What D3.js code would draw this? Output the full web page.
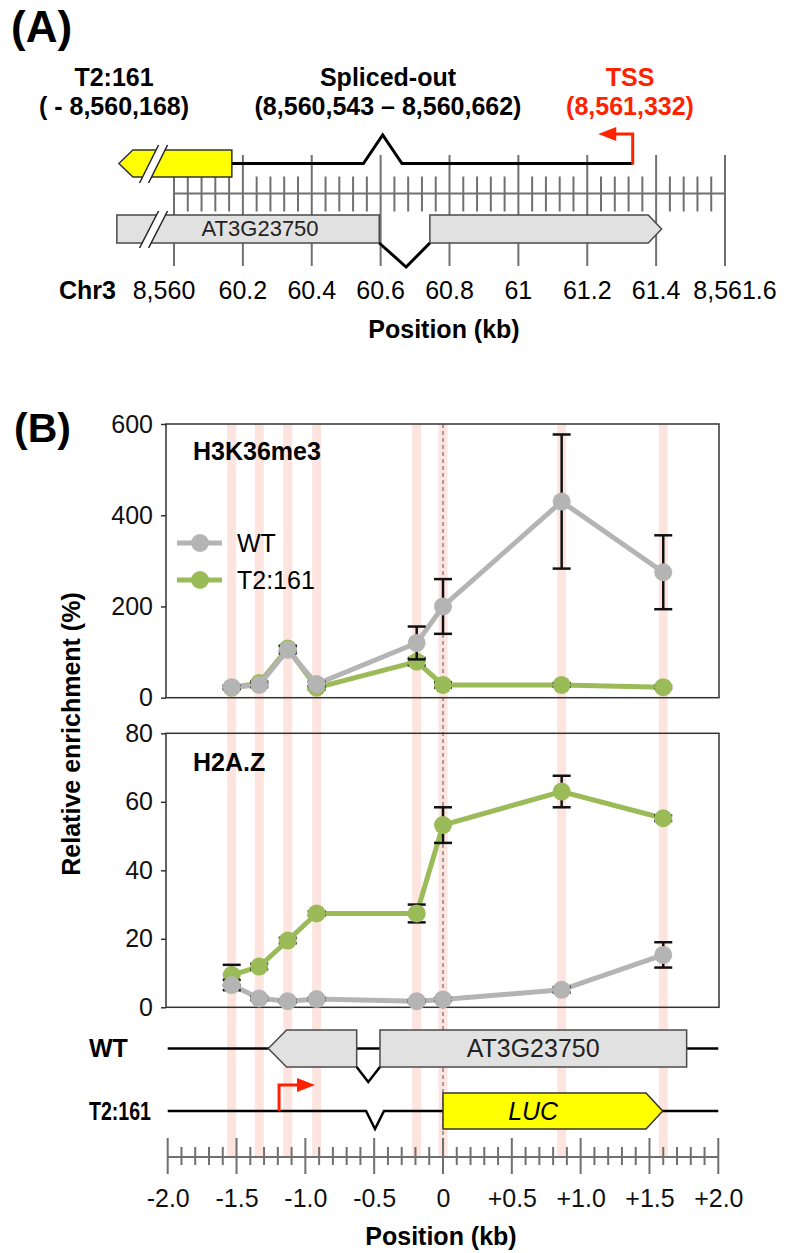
<!DOCTYPE html>
<html>
<head>
<meta charset="utf-8">
<script src="https://cdn.jsdelivr.net/npm/d3@7"></script>
<style>
  body { margin: 0; background: #fff; }
  text { font-family: "Liberation Sans", Arial, Helvetica, sans-serif; }
</style>
</head>
<body>
<div id="chart"></div>
<script>
const width = 786;
const height = 1253;

var color_wt = '#b4b4b4'
var color_t2 = '#9bbb59'
var color_band = '#fde4de'
var color_ruler = '#707070'

// ---- data (panel B) ----
const positions = [-1.535, -1.335, -1.128, -0.918, -0.191, 0, 0.862, 1.600];

const h3k36_wt     = [23, 28, 105, 30, 120, 200, 430, 275];
const h3k36_wt_err = [4, 5, 8, 5, 36, 60, 147, 81];
const h3k36_t2     = [22, 32, 108, 22, 79, 28, 28, 23];
const h3k36_t2_err = [3, 4, 6, 4, 8, 6, 4, 3];

const h2az_wt      = [6.5, 2.6, 1.8, 2.4, 1.8, 2.3, 5.1, 15.3];
const h2az_wt_err  = [1.5, 0.5, 0.4, 0.4, 0.3, 0.4, 0.8, 3.7];
const h2az_t2      = [9.4, 11.9, 19.5, 27.4, 27.4, 53.2, 63, 55.2];
const h2az_t2_err  = [3.0, 0.8, 0.8, 0.6, 2.6, 5.2, 4.6, 0.8];

const h3k36_ticks = [0, 200, 400, 600];
const h2az_ticks = [0, 20, 40, 60, 80];
const posB_ticks = [-2, -1.5, -1, -0.5, 0, 0.5, 1, 1.5, 2];
const posB_labels = ["-2.0", "-1.5", "-1.0", "-0.5", "0", "+0.5", "+1.0", "+1.5", "+2.0"];

// gene models for panel B (kb relative to LUC start)
const wt_exon1 = [-1.269, -1.136, -0.627];   // arrow tip, box start, end
const wt_intron = [-0.627, -0.543, -0.458];
const wt_exon2 = [-0.458, 1.770];
const t2_intron = [-0.559, -0.494, -0.429];
const luc = [0, 1.475, 1.596];
const t2_tss = [-1.191, -0.93];

// ---- data (panel A) ----
const posA_ticks = [8560.0, 8560.2, 8560.4, 8560.6, 8560.8, 8561.0, 8561.2, 8561.4, 8561.6];
const posA_labels = ["8,560", "60.2", "60.4", "60.6", "60.8", "61", "61.2", "61.4", "8,561.6"];
const t2_end = 8560.168;
const t2_tip = 8559.840;
const spliced = [8560.550, 8560.662];
const tss = 8561.332;
const tss_arrow_tip = 8561.232;
const gene_exon1 = [8559.834, 8560.596];
const gene_intron = [8560.596, 8560.674, 8560.743];
const gene_exon2 = [8560.743, 8561.377, 8561.416];

var svg = d3.select("#chart").append("svg")
  .attr("width", width)
  .attr("height", height);

// ================= PANEL A =================
const xA = d3.scaleLinear().domain([8560.0, 8561.6]).range([174, 725]);
const yLineA = 163.5, yRulerA = 193.5;
const yelTop = 150, yelBot = 177;
const genTop = 215, genBot = 243;

svg.append("text").attr("x", 11).attr("y", 42)
  .attr("font-size", 44).attr("font-weight", "bold").text("(A)");

const headA = [
  {x: 114, l1: "T2:161", l2: "( - 8,560,168)", c: "#000"},
  {x: 388, l1: "Spliced-out", l2: "(8,560,543 \u2013 8,560,662)", c: "#000"},
  {x: 630, l1: "TSS", l2: "(8,561,332)", c: "#ff2200"}
];
headA.forEach(function(h) {
  svg.append("text").attr("x", h.x).attr("y", 86).attr("text-anchor", "middle")
    .attr("font-size", 25).attr("font-weight", "bold").attr("fill", h.c).text(h.l1);
  svg.append("text").attr("x", h.x).attr("y", 115).attr("text-anchor", "middle")
    .attr("font-size", 25).attr("font-weight", "bold").attr("fill", h.c).text(h.l2);
});

// ruler A
const rulerA = svg.append("g").attr("stroke", color_ruler).attr("stroke-width", 2);
d3.range(41).forEach(function(i) {
  var v = 8560 + i * 0.04;
  var major = (i % 5 === 0);
  rulerA.append("line")
    .attr("x1", xA(v)).attr("x2", xA(v))
    .attr("y1", major ? 155 : 176.5).attr("y2", major ? 266 : 211.5);
});
rulerA.append("line").attr("x1", xA(8560)).attr("x2", xA(8561.6))
  .attr("y1", yRulerA).attr("y2", yRulerA);

// gray gene
const gA = svg.append("g").attr("fill", "#e1e1e1").attr("stroke", "#4a4a4a").attr("stroke-width", 1.5);
gA.append("rect").attr("x", xA(gene_exon1[0])).attr("y", genTop)
  .attr("width", xA(gene_exon1[1]) - xA(gene_exon1[0])).attr("height", genBot - genTop);
gA.append("path").attr("d", "M" + xA(gene_exon2[0]) + "," + genTop + "L" + xA(gene_exon2[1]) + "," + genTop +
  "L" + xA(gene_exon2[2]) + "," + ((genTop + genBot) / 2) + "L" + xA(gene_exon2[1]) + "," + genBot +
  "L" + xA(gene_exon2[0]) + "," + genBot + "Z");
svg.append("path").attr("fill", "none").attr("stroke", "#000").attr("stroke-width", 3)
  .attr("d", d3.line()([[xA(gene_intron[0]), genBot], [xA(gene_intron[1]), 267], [xA(gene_intron[2]), genBot]]));
svg.append("text").attr("x", xA(8560.25)).attr("y", 236).attr("text-anchor", "middle")
  .attr("font-size", 22).attr("fill", "#222").text("AT3G23750");

// yellow T2:161 piece
svg.append("path").attr("fill", "#ffff00").attr("stroke", "#333").attr("stroke-width", 1.5)
  .attr("d", "M" + xA(t2_tip) + "," + ((yelTop + yelBot) / 2) + "L" + (xA(t2_tip) + 14) + "," + yelTop +
    "L" + xA(t2_end) + "," + yelTop + "L" + xA(t2_end) + "," + yelBot +
    "L" + (xA(t2_tip) + 14) + "," + yelBot + "Z");

// break marks
function breakMark(y0, y1) {
  var xb = xA(8559.9);
  svg.append("path").attr("fill", "#fff").attr("stroke", "none")
    .attr("d", "M" + xb + "," + y1 + "L" + (xb + 19) + "," + y0 + "L" + (xb + 28) + "," + y0 + "L" + (xb + 9) + "," + y1 + "Z");
  svg.append("path").attr("fill", "none").attr("stroke", "#222").attr("stroke-width", 1.5)
    .attr("d", "M" + xb + "," + y1 + "L" + (xb + 19) + "," + y0 + "M" + (xb + 9) + "," + y1 + "L" + (xb + 28) + "," + y0);
}
breakMark(145, 183);
breakMark(211, 248);

// transcript line with spliced-out bump
const peakA = (spliced[0] + spliced[1]) / 2;
svg.append("path").attr("fill", "none").attr("stroke", "#000").attr("stroke-width", 3)
  .attr("d", d3.line()([[xA(t2_end), yLineA], [xA(spliced[0]), yLineA], [xA(peakA), 135],
    [xA(spliced[1]), yLineA], [xA(tss), yLineA]]));

// TSS arrow
svg.append("path").attr("fill", "none").attr("stroke", "#ff2200").attr("stroke-width", 3)
  .attr("d", "M" + xA(tss) + "," + (yLineA + 1) + "V134H" + (xA(tss_arrow_tip) + 16));
svg.append("path").attr("fill", "#ff2200")
  .attr("d", "M" + xA(tss_arrow_tip) + ",134L" + (xA(tss_arrow_tip) + 18) + ",127L" + (xA(tss_arrow_tip) + 18) + ",141Z");

// axis labels A (outer labels sit a little outside their ticks)
svg.append("text").attr("x", 116).attr("y", 299).attr("text-anchor", "end")
  .attr("font-size", 25).attr("font-weight", "bold").text("Chr3");
svg.append("g").selectAll("text").data(posA_ticks).enter().append("text")
  .attr("x", function(d, i) { return xA(d) + (i === 0 ? -10 : (i === posA_ticks.length - 1 ? 10 : 0)); })
  .attr("y", 299).attr("text-anchor", "middle")
  .attr("font-size", 25).text(function(d, i) { return posA_labels[i]; });
svg.append("text").attr("x", 444).attr("y", 338).attr("text-anchor", "middle")
  .attr("font-size", 25).attr("font-weight", "bold").text("Position (kb)");

// ================= PANEL B =================
const xB = d3.scaleLinear().domain([-2, 2]).range([167.7, 718.3]);
const yTop = d3.scaleLinear().domain([0, 600]).range([697.7, 424]);
const yBot = d3.scaleLinear().domain([0, 80]).range([1007.3, 733.3]);
const frameL = 166, frameR = 719;
const yRulerB = 1157;

svg.append("text").attr("x", 14).attr("y", 442)
  .attr("font-size", 41).attr("font-weight", "bold").text("(B)");

// pink bands + dashed zero line
svg.append("g").selectAll("rect").data(positions).enter().append("rect")
  .attr("x", function(d) { return xB(d) - 4.5; }).attr("width", 9)
  .attr("y", yTop.range()[1]).attr("height", yRulerB - yTop.range()[1])
  .attr("fill", color_band);
svg.append("line").attr("x1", xB(0)).attr("x2", xB(0))
  .attr("y1", yTop.range()[1]).attr("y2", yRulerB)
  .attr("stroke", "#777").attr("stroke-width", 1.3).attr("stroke-dasharray", "4,3");

function drawChart(y, ticks, series, label, labelY) {
  var g = svg.append("g");
  g.append("rect").attr("x", frameL).attr("y", y.range()[1])
    .attr("width", frameR - frameL).attr("height", y.range()[0] - y.range()[1])
    .attr("fill", "none").attr("stroke", "#333").attr("stroke-width", 1.5);
  var ax = g.append("g").attr("transform", "translate(" + frameL + ",0)")
    .call(d3.axisLeft(y).tickValues(ticks).tickSize(5).tickPadding(8));
  ax.select(".domain").remove();
  ax.selectAll("line").attr("stroke", "#333").attr("stroke-width", 1.5);
  ax.selectAll("text").attr("font-size", 25).attr("fill", "#111")
    .style("font-family", '"Liberation Sans", Arial, sans-serif');
  g.append("text").attr("x", 193).attr("y", labelY)
    .attr("font-size", 25).attr("font-weight", "bold").text(label);

  series.forEach(function(s) {
    var pts = positions.map(function(p, i) { return [xB(p), y(s.v[i])]; });
    g.append("path").attr("fill", "none").attr("stroke", s.c).attr("stroke-width", 5)
      .attr("d", d3.line()(pts));
    var eb = g.append("g").attr("stroke", "#111").attr("stroke-width", 2.5);
    positions.forEach(function(p, i) {
      var x = xB(p), lo = y(s.v[i] - s.e[i]), hi = y(s.v[i] + s.e[i]);
      eb.append("line").attr("x1", x).attr("x2", x).attr("y1", lo).attr("y2", hi);
      eb.append("line").attr("x1", x - 9).attr("x2", x + 9).attr("y1", lo).attr("y2", lo);
      eb.append("line").attr("x1", x - 9).attr("x2", x + 9).attr("y1", hi).attr("y2", hi);
    });
    g.append("g").selectAll("circle").data(pts).enter().append("circle")
      .attr("cx", function(d) { return d[0]; }).attr("cy", function(d) { return d[1]; })
      .attr("r", 9).attr("fill", s.c);
  });
}

drawChart(yTop, h3k36_ticks, [
  {v: h3k36_t2, e: h3k36_t2_err, c: color_t2},
  {v: h3k36_wt, e: h3k36_wt_err, c: color_wt}
], "H3K36me3", 460);

drawChart(yBot, h2az_ticks, [
  {v: h2az_t2, e: h2az_t2_err, c: color_t2},
  {v: h2az_wt, e: h2az_wt_err, c: color_wt}
], "H2A.Z", 771);

// legend
const legend = [{name: "WT", c: color_wt, y: 543}, {name: "T2:161", c: color_t2, y: 580}];
legend.forEach(function(l) {
  svg.append("line").attr("x1", 177).attr("x2", 222).attr("y1", l.y).attr("y2", l.y)
    .attr("stroke", l.c).attr("stroke-width", 5);
  svg.append("circle").attr("cx", 200).attr("cy", l.y).attr("r", 9).attr("fill", l.c);
  svg.append("text").attr("x", 237).attr("y", l.y + 9).attr("font-size", 25).text(l.name);
});

// y label
svg.append("text").attr("transform", "translate(80,734) rotate(-90)")
  .attr("text-anchor", "middle").attr("font-size", 25).attr("font-weight", "bold")
  .text("Relative enrichment (%)");

// gene models
const yWT = 1048.5, yT2 = 1111;
const exTop = 1030, exBot = 1067;
const lucTop = 1093, lucBot = 1129;

svg.append("text").attr("x", 89).attr("y", 1057).attr("font-size", 25).attr("font-weight", "bold").text("WT");
svg.append("text").attr("x", 89).attr("y", 1120).attr("font-size", 25).attr("font-weight", "bold")
  .attr("textLength", 62).attr("lengthAdjust", "spacingAndGlyphs").text("T2:161");

svg.append("line").attr("x1", xB(-2)).attr("x2", xB(2)).attr("y1", yWT).attr("y2", yWT)
  .attr("stroke", "#000").attr("stroke-width", 2.5);
const gB = svg.append("g").attr("fill", "#e1e1e1").attr("stroke", "#4a4a4a").attr("stroke-width", 1.5);
gB.append("path").attr("d", "M" + xB(wt_exon1[0]) + "," + yWT + "L" + xB(wt_exon1[1]) + "," + exTop +
  "L" + xB(wt_exon1[2]) + "," + exTop + "L" + xB(wt_exon1[2]) + "," + exBot + "L" + xB(wt_exon1[1]) + "," + exBot + "Z");
gB.append("rect").attr("x", xB(wt_exon2[0])).attr("y", exTop)
  .attr("width", xB(wt_exon2[1]) - xB(wt_exon2[0])).attr("height", exBot - exTop);
svg.append("path").attr("fill", "none").attr("stroke", "#000").attr("stroke-width", 2.5)
  .attr("d", d3.line()([[xB(wt_intron[0]), exBot], [xB(wt_intron[1]), 1082], [xB(wt_intron[2]), exBot]]));
svg.append("text").attr("x", xB(0.655)).attr("y", 1057).attr("text-anchor", "middle")
  .attr("font-size", 25).attr("fill", "#222").text("AT3G23750");

svg.append("path").attr("fill", "none").attr("stroke", "#000").attr("stroke-width", 2.5)
  .attr("d", d3.line()([[xB(-2), yT2], [xB(t2_intron[0]), yT2], [xB(t2_intron[1]), 1129],
    [xB(t2_intron[2]), yT2], [xB(2), yT2]]));
svg.append("path").attr("fill", "#ffff00").attr("stroke", "#333").attr("stroke-width", 1.5)
  .attr("d", "M" + xB(luc[0]) + "," + lucTop + "L" + xB(luc[1]) + "," + lucTop + "L" + xB(luc[2]) + "," + yT2 +
    "L" + xB(luc[1]) + "," + lucBot + "L" + xB(luc[0]) + "," + lucBot + "Z");
svg.append("text").attr("x", xB(0.655)).attr("y", 1120).attr("text-anchor", "middle")
  .attr("font-size", 25).attr("font-style", "italic").text("LUC");

// TSS arrow in T2:161
svg.append("path").attr("fill", "none").attr("stroke", "#ff2200").attr("stroke-width", 3)
  .attr("d", "M" + xB(t2_tss[0]) + "," + yT2 + "V1085H" + (xB(t2_tss[1]) - 16));
svg.append("path").attr("fill", "#ff2200")
  .attr("d", "M" + xB(t2_tss[1]) + ",1085L" + (xB(t2_tss[1]) - 18) + ",1078L" + (xB(t2_tss[1]) - 18) + ",1092Z");

// ruler B
const rulerB = svg.append("g").attr("stroke", color_ruler).attr("stroke-width", 2);
d3.range(41).forEach(function(i) {
  var v = -2 + i * 0.1;
  var major = (i % 5 === 0);
  rulerB.append("line").attr("x1", xB(v)).attr("x2", xB(v))
    .attr("y1", major ? 1138 : 1147).attr("y2", major ? 1174 : 1165);
});
rulerB.append("line").attr("x1", xB(-2)).attr("x2", xB(2)).attr("y1", yRulerB).attr("y2", yRulerB);

var axB = svg.append("g").attr("transform", "translate(0,1180)")
  .call(d3.axisBottom(xB).tickValues(posB_ticks).tickSize(0).tickPadding(9)
    .tickFormat(function(d, i) { return posB_labels[i]; }));
axB.select(".domain").remove();
axB.selectAll("text").attr("font-size", 25).attr("fill", "#111")
  .style("font-family", '"Liberation Sans", Arial, sans-serif');

svg.append("text").attr("x", 441).attr("y", 1245).attr("text-anchor", "middle")
  .attr("font-size", 25).attr("font-weight", "bold").text("Position (kb)");
</script>
</body>
</html>
